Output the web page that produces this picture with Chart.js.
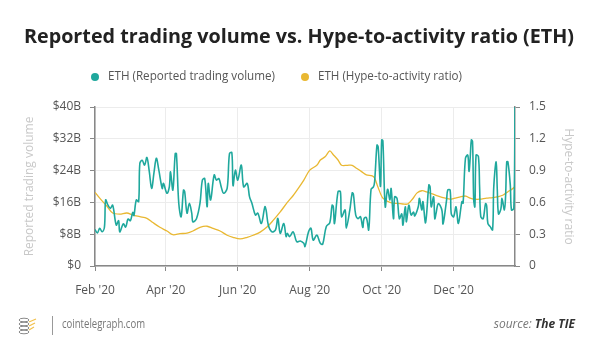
<!DOCTYPE html>
<html>
<head>
<meta charset="utf-8">
<script src="https://cdn.jsdelivr.net/npm/chart.js@4.4.0/dist/chart.umd.min.js"></script>
<style>
html,body{margin:0;padding:0;background:#fff;}
#wrap{width:600px;height:359px;position:relative;}
</style>
</head>
<body>
<div id="wrap"><canvas id="c" width="600" height="359"></canvas></div>
<script>
// Day offsets counted from 1 Feb 2020
const volumeDays = [0,2,4,6,8,9,11,13,15,18,20,21,24,26,28,30,32,33,35,37,38,40,42,44,46,48,50,52,54,57,58,61,63,64,66,68,69,71,73,75,76,78,80,82,83,86,89,91,93,95,96,98,101,103,105,107,109,112,114,116,117,119,121,124,126,129,131,133,136,138,141,144,145,147,150,153,155,157,160,162,163,165,168,171,174,177,178,181,183,185,188,191,193,196,199,201,202,203,206,208,209,212,213,216,218,219,221,223,225,227,228,230,232,234,236,237,239,240,242,243,244,246,248,250,251,253,254,256,258,260,261,263,264,266,268,270,271,274,275,277,278,280,281,283,284,285,287,288,289,291,294,295,298,299,301,302,304,306,308,311,312,314,316,317,318,319,320,321,322,323,325,326,327,329,331,332,333,335,337,338,340,341,342,344,345,347,348,349,350,352,353,355,356];
// Reported trading volume, billions USD
const volumeValues = [9.2,8.3,9.5,8.6,9.8,16.6,15.3,14.5,15.3,10.3,11.4,8.6,10.6,9.8,11.8,11.4,13.5,12.7,16.6,16.2,25.8,26.6,25.4,27.3,23.8,19.5,23.5,27.1,24.3,19.5,20.8,18.3,19.9,23.7,19.1,28.3,28.3,15.8,12.4,19.1,18.7,13.3,15.8,13.3,11.1,11.9,15.8,21.6,22.0,14.9,20.8,16.6,22.9,21.6,22.0,19.9,18.3,19.5,28.3,28.5,20.2,24.1,21.6,25.4,19.9,20.8,17.4,15.8,12.8,13.3,10.7,14.9,14.1,10.2,8.6,9.1,12.0,8.2,10.7,7.4,8.2,7.4,8.6,6.1,6.3,5.7,4.9,8.6,9.5,6.5,7.8,5.7,5.5,9.9,10.9,15.3,14.9,10.7,18.7,18.7,12.4,14.1,9.5,14.1,18.4,18.1,12.8,11.9,12.4,9.7,11.9,12.2,9.1,19.3,19.9,21.2,30.4,30.0,20.0,31.7,31.5,14.9,19.3,16.6,19.5,11.9,17.4,17.0,11.9,13.1,10.3,14.9,11.1,15.3,12.8,13.6,12.6,14.9,17.0,14.1,16.2,10.9,12.8,20.4,19.9,14.9,17.4,11.9,13.1,15.7,14.1,10.6,16.6,19.1,19.1,13.1,12.4,14.9,10.7,16.2,15.8,27.1,27.9,23.8,27.1,31.7,31.3,16.6,14.9,27.9,27.5,19.9,12.4,11.9,15.7,15.1,10.7,9.9,9.1,19.9,26.2,19.1,13.1,14.3,17.0,14.1,17.4,26.2,26.2,20.4,14.1,14.5,40];
const ratioDays = [0,4,10,15,21,27,32,38,44,49,55,61,66,72,78,83,89,95,100,106,112,117,123,129,134,140,146,151,157,163,168,174,177,182,188,191,195,199,202,206,209,214,218,222,226,230,235,237,240,244,250,256,261,265,269,273,277,281,286,291,297,301,305,309,314,318,322,326,332,337,342,346,350,354,356];
// Hype-to-activity ratio
const ratioValues = [0.695,0.64,0.566,0.5,0.49,0.5,0.48,0.465,0.45,0.41,0.365,0.33,0.295,0.305,0.31,0.33,0.365,0.375,0.355,0.33,0.29,0.27,0.255,0.27,0.29,0.32,0.37,0.43,0.51,0.6,0.665,0.76,0.81,0.905,0.95,1.0,1.03,1.085,1.05,1.0,0.95,0.95,0.95,0.92,0.89,0.86,0.85,0.83,0.74,0.64,0.6,0.59,0.585,0.585,0.63,0.69,0.71,0.7,0.68,0.66,0.64,0.63,0.64,0.65,0.66,0.64,0.63,0.63,0.64,0.645,0.655,0.67,0.7,0.73,0.75];

const tickDays = [0,60,121,182,243,304];
const tickLabels = ["Feb '20","Apr '20","Jun '20","Aug '20","Oct '20","Dec '20"];
const volumeTicks = [0,8,16,24,32,40];
const ratioTicks = [0,0.3,0.6,0.9,1.2,1.5];
const seriesNames = ['ETH (Reported trading volume)','ETH (Hype-to-activity ratio)'];
const chartTitle = 'Reported trading volume vs. Hype-to-activity ratio (ETH)';
const leftAxisTitle = 'Reported trading volume';
const rightAxisTitle = 'Hype-to-activity ratio';
const siteName = 'cointelegraph.com';
const sourceLabel = 'source: ';
const sourceName = 'The TIE';

const TEAL = '#1fa89d';
const YELLOW = '#e9b832';
const FONT = '"Open Sans", "Noto Sans", sans-serif';

const decor = {
  id: 'decor',
  afterDraw(chart) {
    const ctx = chart.ctx;
    ctx.save();
    // title
    ctx.fillStyle = '#222';
    ctx.font = '700 20px ' + FONT;
    ctx.textAlign = 'center';
    ctx.textBaseline = 'middle';
    ctx.fillText(chartTitle, 299, 37, 550);
    // legend
    ctx.font = '12px ' + FONT;
    ctx.textAlign = 'left';
    const items = [{x: 95, c: chart.data.datasets[0].borderColor, t: chart.data.datasets[0].label},
                   {x: 305, c: chart.data.datasets[1].borderColor, t: chart.data.datasets[1].label}];
    items.forEach(it => {
      ctx.fillStyle = it.c;
      ctx.beginPath(); ctx.arc(it.x, 77, 4, 0, Math.PI * 2); ctx.fill();
      ctx.fillStyle = '#555';
      ctx.fillText(it.t, it.x + 13, 77, it.x === 95 ? 167 : 144);
    });
    // footer logo
    ctx.strokeStyle = '#8a8a8a'; ctx.lineWidth = 1;
    for (let i = 0; i < 4; i++) {
      ctx.beginPath(); ctx.ellipse(24, 320 + i * 4, 5, 1.8, 0, 0, Math.PI * 2); ctx.stroke();
    }
    ctx.strokeStyle = '#f2c14e'; ctx.lineWidth = 1.3;
    ctx.beginPath(); ctx.moveTo(29, 322); ctx.lineTo(36, 319); ctx.moveTo(29, 326); ctx.lineTo(35, 323); ctx.moveTo(29, 330); ctx.lineTo(34, 327); ctx.stroke();
    // separator
    ctx.strokeStyle = '#999'; ctx.lineWidth = 1;
    ctx.beginPath(); ctx.moveTo(52.5, 316); ctx.lineTo(52.5, 335); ctx.stroke();
    ctx.fillStyle = '#777';
    ctx.font = '12px ' + FONT;
    ctx.textAlign = 'left';
    ctx.fillText(siteName, 62, 325, 83);
    // source
    ctx.textAlign = 'right';
    ctx.font = 'italic 700 12px ' + FONT;
    ctx.fillStyle = '#333';
    ctx.fillText(sourceName, 575, 325);
    const w = ctx.measureText(sourceName).width;
    ctx.font = 'italic 12px ' + FONT;
    ctx.fillStyle = '#777';
    ctx.fillText(sourceLabel, 575 - w, 325);
    ctx.restore();
  }
};

new Chart(document.getElementById('c'), {
  type: 'line',
  data: {
    datasets: [
      {
        label: seriesNames[0],
        data: volumeDays.map((d, i) => ({x: d, y: volumeValues[i]})),
        borderColor: TEAL, backgroundColor: TEAL,
        borderWidth: 1.6, pointRadius: 0, tension: 0.35, yAxisID: 'y', fill: false
      },
      {
        label: seriesNames[1],
        data: ratioDays.map((d, i) => ({x: d, y: ratioValues[i]})),
        borderColor: YELLOW, backgroundColor: YELLOW,
        borderWidth: 1.3, pointRadius: 0, tension: 0.3, yAxisID: 'y1', fill: false
      }
    ]
  },
  options: {
    responsive: false,
    animation: false,
    devicePixelRatio: 1,
    layout: {padding: {top: 107, left: 0, right: 0, bottom: 0}},
    plugins: {legend: {display: false}, title: {display: false}, tooltip: {enabled: false}},
    scales: {
      x: {
        type: 'linear', min: 0, max: 356,
        afterBuildTicks: s => { s.ticks = tickDays.map(v => ({value: v})); },
        afterFit: s => { s.height = 93; },
        ticks: {
          autoSkip: false, maxRotation: 0, padding: 12,
          color: '#555', font: {family: FONT, size: 12},
          callback: (v, i) => tickLabels[i]
        },
        grid: {color: '#ececec', tickColor: '#888', tickLength: 5, lineWidth: 1},
        border: {color: '#888', width: 1.5}
      },
      y: {
        position: 'left', min: 0, max: 40,
        afterBuildTicks: s => { s.ticks = volumeTicks.map(v => ({value: v})); },
        afterFit: s => { s.width = 95; },
        ticks: {
          padding: 9, color: '#555', font: {family: FONT, size: 12},
          callback: v => v === 0 ? '$0' : '$' + v + 'B'
        },
        grid: {color: '#ececec', tickColor: '#888', tickLength: 5},
        border: {color: '#888', width: 1.5},
        title: {display: true, text: leftAxisTitle, color: '#c8c8c8', font: {family: FONT, size: 12}, padding: {top: 22, bottom: 0}}
      },
      y1: {
        position: 'right', min: 0, max: 1.5,
        afterBuildTicks: s => { s.ticks = ratioTicks.map(v => ({value: v})); },
        afterFit: s => { s.width = 85; },
        ticks: {
          padding: 9, color: '#555', font: {family: FONT, size: 12},
          callback: v => v === 0 ? '0' : String(v)
        },
        grid: {drawOnChartArea: false, tickColor: '#888', tickLength: 5},
        border: {color: '#888', width: 1.5},
        title: {display: true, text: rightAxisTitle, color: '#c8c8c8', font: {family: FONT, size: 12}, padding: {top: 24, bottom: 0}}
      }
    }
  },
  plugins: [decor]
});
</script>
</body>
</html>
